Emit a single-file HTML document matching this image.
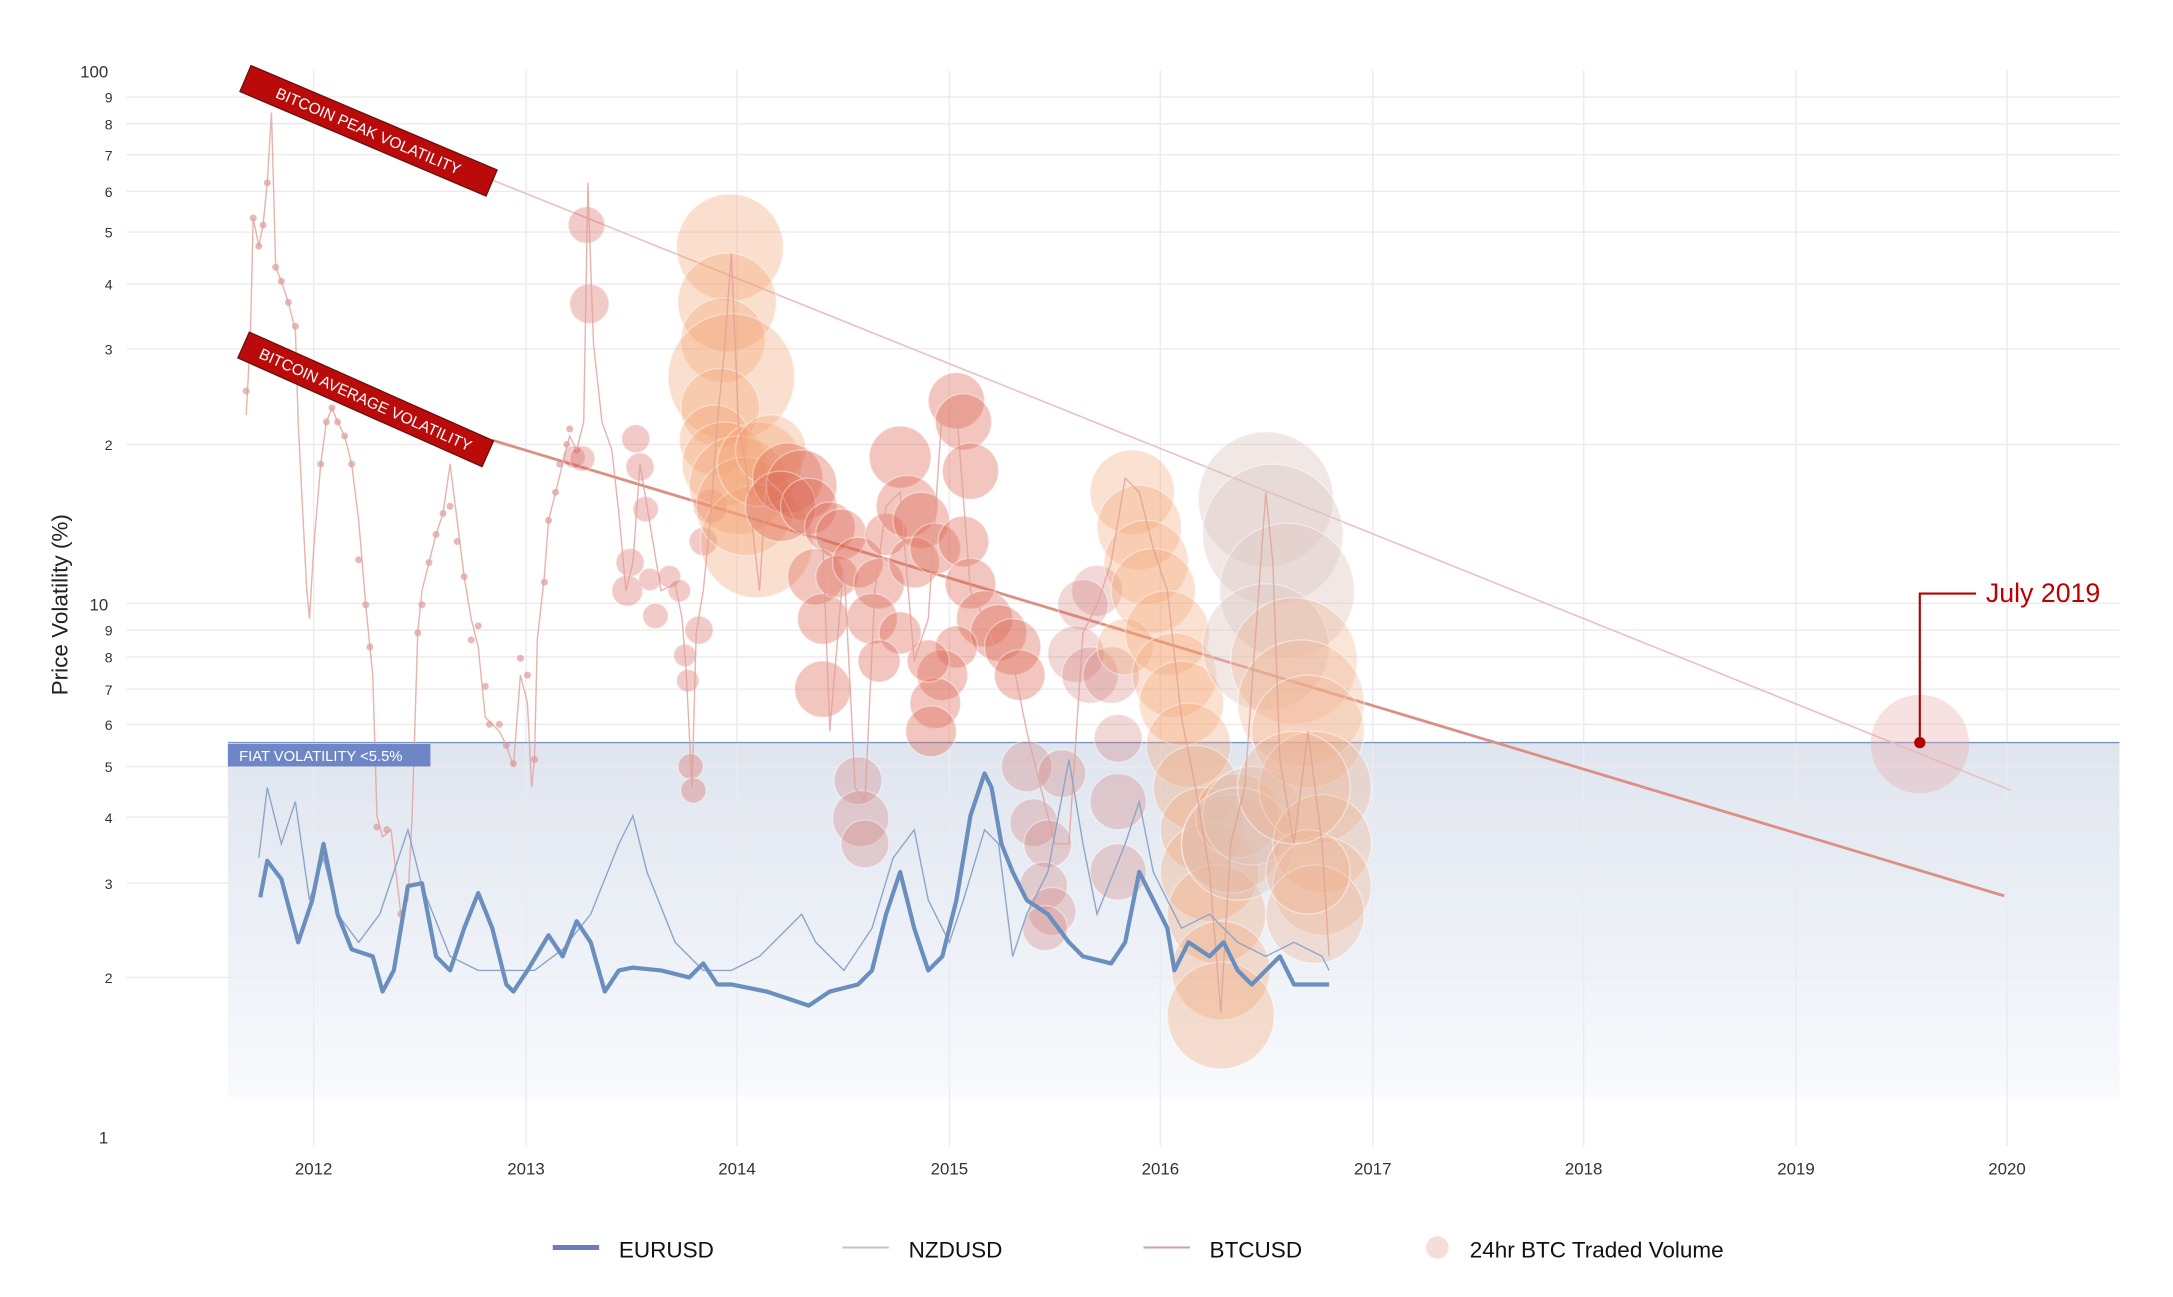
<!DOCTYPE html>
<html><head><meta charset="utf-8"><style>
html,body{margin:0;padding:0;background:#fff;}
svg{display:block;font-family:"Liberation Sans",sans-serif;}
</style></head><body>
<svg width="2173" height="1297" viewBox="0 0 1545 922.2" xmlns="http://www.w3.org/2000/svg">
<defs>
<linearGradient id="fiat" x1="0" y1="0" x2="0" y2="1">
<stop offset="0" stop-color="#dfe5ef"/><stop offset="1" stop-color="#f8fafd"/>
</linearGradient>
</defs>
<rect width="1545" height="922.2" fill="#fff"/>
<!-- fiat band -->
<rect x="162" y="528" width="1345" height="252" fill="url(#fiat)"/>
<!-- gridlines horizontal -->
<g stroke="#ebebeb" stroke-width="1">
<line x1="90" x2="1507" y1="69" y2="69"/><line x1="90" x2="1507" y1="88" y2="88"/>
<line x1="90" x2="1507" y1="110" y2="110"/><line x1="90" x2="1507" y1="136" y2="136"/>
<line x1="90" x2="1507" y1="165" y2="165"/><line x1="90" x2="1507" y1="202" y2="202"/>
<line x1="90" x2="1507" y1="248" y2="248"/><line x1="90" x2="1507" y1="316" y2="316"/>
<line x1="90" x2="1507" y1="429" y2="429"/><line x1="90" x2="1507" y1="448" y2="448"/>
<line x1="90" x2="1507" y1="467" y2="467"/><line x1="90" x2="1507" y1="490" y2="490"/>
<line x1="90" x2="1507" y1="515" y2="515"/><line x1="90" x2="1507" y1="545" y2="545"/>
<line x1="90" x2="1507" y1="581" y2="581"/><line x1="90" x2="1507" y1="628" y2="628"/>
<line x1="90" x2="1507" y1="695" y2="695"/>
</g>
<g stroke="#ebebf0" stroke-width="1">
<line x1="223" x2="223" y1="50" y2="815"/><line x1="374" x2="374" y1="50" y2="815"/>
<line x1="524" x2="524" y1="50" y2="815"/><line x1="675" x2="675" y1="50" y2="815"/>
<line x1="825" x2="825" y1="50" y2="815"/><line x1="976" x2="976" y1="50" y2="815"/>
<line x1="1126" x2="1126" y1="50" y2="815"/><line x1="1277" x2="1277" y1="50" y2="815"/>
<line x1="1427" x2="1427" y1="50" y2="815"/>
</g>
<line x1="162" x2="1507" y1="528" y2="528" stroke="#7f93c0" stroke-width="1"/>
<!-- y labels -->
<g font-size="12" fill="#333" text-anchor="end">
<text x="77" y="55">100</text>
</g>
<g font-size="10" fill="#333" text-anchor="end">
<text x="80" y="73">9</text><text x="80" y="92">8</text><text x="80" y="114">7</text>
<text x="80" y="140">6</text><text x="80" y="169">5</text><text x="80" y="206">4</text>
<text x="80" y="252">3</text><text x="80" y="320">2</text>
<text x="77" y="434" font-size="12">10</text>
<text x="80" y="452">9</text><text x="80" y="471">8</text><text x="80" y="494">7</text>
<text x="80" y="519">6</text><text x="80" y="549">5</text><text x="80" y="585">4</text>
<text x="80" y="632">3</text><text x="80" y="699">2</text><text x="77" y="813" font-size="12">1</text>
</g>
<text transform="translate(48,430) rotate(-90)" font-size="16" text-anchor="middle" fill="#222">Price Volatility (%)</text>
<g font-size="12" fill="#333" text-anchor="middle">
<text x="223" y="835">2012</text><text x="374" y="835">2013</text><text x="524" y="835">2014</text>
<text x="675" y="835">2015</text><text x="825" y="835">2016</text><text x="976" y="835">2017</text>
<text x="1126" y="835">2018</text><text x="1277" y="835">2019</text><text x="1427" y="835">2020</text>
</g>
<!-- trend lines -->
<line x1="350" y1="128" x2="1430" y2="562" stroke="#e8c4c4" stroke-width="1.2"/>
<line x1="350" y1="313" x2="1425" y2="637" stroke="#dc8f85" stroke-width="2"/>
<!-- early dots -->
<g fill="#d88a8a" fill-opacity="0.6">
<circle cx="175" cy="278" r="2.5"/><circle cx="178" cy="240" r="2.5"/><circle cx="180" cy="155" r="2.5"/><circle cx="184" cy="175" r="2.5"/><circle cx="187" cy="160" r="2.5"/><circle cx="190" cy="130" r="2.5"/><circle cx="196" cy="190" r="2.5"/><circle cx="200" cy="200" r="2.5"/><circle cx="205" cy="215" r="2.5"/><circle cx="210" cy="232" r="2.5"/><circle cx="228" cy="330" r="2.5"/><circle cx="232" cy="300" r="2.5"/><circle cx="236" cy="290" r="2.5"/><circle cx="240" cy="300" r="2.5"/><circle cx="245" cy="310" r="2.5"/><circle cx="250" cy="330" r="2.5"/><circle cx="255" cy="398" r="2.5"/><circle cx="260" cy="430" r="2.5"/><circle cx="263" cy="460" r="2.5"/><circle cx="268" cy="588" r="2.5"/><circle cx="275" cy="590" r="2.5"/><circle cx="285" cy="650" r="2.5"/><circle cx="297" cy="450" r="2.5"/><circle cx="300" cy="430" r="2.5"/><circle cx="305" cy="400" r="2.5"/><circle cx="310" cy="380" r="2.5"/><circle cx="315" cy="365" r="2.5"/><circle cx="320" cy="360" r="2.5"/><circle cx="325" cy="385" r="2.5"/><circle cx="330" cy="410" r="2.5"/><circle cx="335" cy="455" r="2.5"/><circle cx="340" cy="445" r="2.5"/><circle cx="345" cy="488" r="2.5"/><circle cx="348" cy="515" r="2.5"/><circle cx="355" cy="515" r="2.5"/><circle cx="360" cy="530" r="2.5"/><circle cx="365" cy="543" r="2.5"/><circle cx="370" cy="468" r="2.5"/><circle cx="375" cy="480" r="2.5"/><circle cx="380" cy="540" r="2.5"/><circle cx="387" cy="414" r="2.5"/><circle cx="390" cy="370" r="2.5"/><circle cx="395" cy="350" r="2.5"/><circle cx="398" cy="330" r="2.5"/><circle cx="403" cy="316" r="2.5"/><circle cx="405" cy="305" r="2.5"/><circle cx="410" cy="320" r="2.5"/>
</g>
<!-- bubbles -->
<g fill="#d9625a" fill-opacity="0.33" stroke="#fff" stroke-opacity="0.35" stroke-width="1">
<circle cx="417" cy="160" r="13"/><circle cx="419" cy="216" r="14"/><circle cx="452" cy="312" r="10"/><circle cx="455" cy="332" r="10"/><circle cx="459" cy="362" r="9"/><circle cx="448" cy="400" r="10"/><circle cx="446" cy="420" r="11"/><circle cx="462" cy="412" r="8"/><circle cx="466" cy="438" r="9"/><circle cx="476" cy="410" r="8"/><circle cx="483" cy="420" r="8"/><circle cx="487" cy="466" r="8"/><circle cx="489" cy="484" r="8"/><circle cx="491" cy="545" r="9"/><circle cx="493" cy="562" r="9"/><circle cx="497" cy="448" r="10"/><circle cx="500" cy="385" r="10"/><circle cx="505" cy="360" r="12"/><circle cx="408" cy="325" r="8"/><circle cx="414" cy="326" r="9"/>
</g>
<g fill="#f3a374" fill-opacity="0.35" stroke="#fff" stroke-opacity="0.4" stroke-width="1">
<circle cx="519" cy="176" r="38"/><circle cx="517" cy="215" r="35"/><circle cx="514" cy="242" r="30"/><circle cx="520" cy="268" r="45"/><circle cx="512" cy="290" r="28"/><circle cx="508" cy="313" r="25"/><circle cx="515" cy="330" r="30"/><circle cx="525" cy="345" r="35"/><circle cx="538" cy="385" r="40"/><circle cx="530" cy="360" r="35"/><circle cx="540" cy="330" r="30"/><circle cx="548" cy="320" r="25"/>
</g>
<g fill="#dd6a55" fill-opacity="0.38" stroke="#fff" stroke-opacity="0.4" stroke-width="1">
<circle cx="560" cy="340" r="25"/><circle cx="570" cy="345" r="25"/><circle cx="555" cy="360" r="25"/><circle cx="575" cy="360" r="20"/><circle cx="590" cy="375" r="18"/><circle cx="598" cy="380" r="18"/><circle cx="580" cy="410" r="20"/><circle cx="585" cy="440" r="18"/><circle cx="595" cy="410" r="15"/><circle cx="610" cy="400" r="18"/><circle cx="625" cy="415" r="18"/><circle cx="620" cy="440" r="18"/><circle cx="630" cy="380" r="15"/><circle cx="640" cy="325" r="22"/><circle cx="645" cy="360" r="22"/><circle cx="655" cy="370" r="20"/><circle cx="650" cy="400" r="18"/><circle cx="665" cy="390" r="18"/><circle cx="680" cy="285" r="20"/><circle cx="685" cy="300" r="20"/><circle cx="690" cy="335" r="20"/><circle cx="685" cy="385" r="18"/><circle cx="690" cy="415" r="18"/><circle cx="700" cy="440" r="20"/><circle cx="710" cy="450" r="20"/><circle cx="720" cy="460" r="20"/><circle cx="725" cy="480" r="18"/><circle cx="680" cy="460" r="15"/><circle cx="670" cy="480" r="18"/><circle cx="665" cy="500" r="18"/><circle cx="662" cy="520" r="18"/><circle cx="660" cy="470" r="15"/><circle cx="640" cy="450" r="15"/><circle cx="625" cy="470" r="15"/><circle cx="585" cy="490" r="20"/>
</g>
<g fill="#d27a78" fill-opacity="0.3" stroke="#fff" stroke-opacity="0.4" stroke-width="1">
<circle cx="610" cy="555" r="17"/><circle cx="612" cy="582" r="20"/><circle cx="615" cy="600" r="17"/><circle cx="730" cy="545" r="18"/><circle cx="755" cy="550" r="17"/><circle cx="735" cy="585" r="17"/><circle cx="745" cy="600" r="17"/><circle cx="742" cy="630" r="17"/><circle cx="748" cy="648" r="17"/><circle cx="743" cy="660" r="16"/><circle cx="795" cy="525" r="17"/><circle cx="795" cy="570" r="20"/><circle cx="795" cy="620" r="20"/><circle cx="780" cy="420" r="18"/><circle cx="770" cy="430" r="18"/><circle cx="765" cy="465" r="20"/><circle cx="775" cy="480" r="20"/><circle cx="790" cy="480" r="20"/>
</g>
<g fill="#f3a374" fill-opacity="0.33" stroke="#fff" stroke-opacity="0.4" stroke-width="1">
<circle cx="805" cy="350" r="30"/><circle cx="810" cy="375" r="30"/><circle cx="815" cy="400" r="30"/><circle cx="820" cy="420" r="30"/><circle cx="800" cy="460" r="20"/><circle cx="830" cy="450" r="30"/><circle cx="835" cy="480" r="30"/><circle cx="840" cy="500" r="30"/><circle cx="845" cy="530" r="30"/><circle cx="850" cy="560" r="30"/><circle cx="855" cy="590" r="30"/><circle cx="860" cy="620" r="35"/><circle cx="865" cy="650" r="35"/><circle cx="868" cy="690" r="35"/><circle cx="868" cy="722" r="38"/><circle cx="875" cy="600" r="35"/><circle cx="880" cy="580" r="30"/>
</g>
<g fill="#dcc6c0" fill-opacity="0.4" stroke="#fff" stroke-opacity="0.45" stroke-width="1">
<circle cx="900" cy="355" r="48"/><circle cx="905" cy="380" r="50"/><circle cx="915" cy="420" r="48"/><circle cx="900" cy="460" r="45"/><circle cx="890" cy="580" r="35"/><circle cx="880" cy="600" r="40"/>
</g>
<g fill="#f0b08c" fill-opacity="0.33" stroke="#fff" stroke-opacity="0.45" stroke-width="1">
<circle cx="920" cy="470" r="45"/><circle cx="925" cy="500" r="45"/><circle cx="930" cy="520" r="40"/><circle cx="935" cy="560" r="40"/><circle cx="940" cy="600" r="35"/><circle cx="940" cy="630" r="35"/><circle cx="935" cy="650" r="35"/><circle cx="930" cy="620" r="30"/><circle cx="920" cy="560" r="40"/>
</g>
<!-- BTC line -->
<polyline fill="none" stroke="#e0a098" stroke-width="1" stroke-opacity="0.8" points="175,295 178,240 180,155 184,175 187,160 190,130 193,80 196,190 200,200 205,215 210,235 212,300 215,360 218,418 220,440 223,390 228,330 232,300 236,290 240,300 245,310 250,330 255,370 260,430 265,480 268,580 272,595 278,590 285,650 290,640 293,580 297,450 300,420 305,400 310,380 315,365 320,330 325,370 330,410 335,440 340,460 345,510 350,515 355,520 360,530 365,545 370,480 375,500 378,560 380,540 382,455 387,410 390,370 395,350 400,330 405,310 410,320 415,300 418,130 420,190 422,245 428,300 435,320 440,365 445,420 450,400 455,330 460,360 470,420 480,415 485,440 488,480 492,560 495,450 500,420 505,370 510,300 515,250 520,180 525,300 530,330 540,420 545,340 555,350 565,370 575,380 585,385 590,520 600,400 608,560 615,570 622,420 630,360 640,350 650,470 660,440 670,290 680,290 690,420 700,440 710,470 720,470 730,520 740,560 750,600 760,600 770,450 780,430 790,400 800,340 810,350 820,390 830,420 840,510 850,560 860,620 868,720 875,600 885,560 895,420 900,350 905,400 910,540 920,600 930,520 940,600 945,680"/>
<!-- NZDUSD -->
<polyline fill="none" stroke="#8ea6c8" stroke-width="1" points="184,610 190,560 200,600 210,570 220,640 230,610 240,650 255,670 270,650 280,620 290,590 300,630 320,680 340,690 360,690 380,690 400,675 420,650 440,600 450,580 460,620 480,670 500,690 520,690 540,680 560,660 570,650 580,670 600,690 620,660 635,610 650,590 660,640 675,670 685,640 700,590 710,600 720,680 730,650 745,620 760,540 770,600 780,650 800,600 810,570 820,620 840,660 860,650 880,670 900,680 920,670 940,680 945,690"/>
<!-- EURUSD -->
<polyline fill="none" stroke="#6a8fbf" stroke-width="3" stroke-linejoin="round" points="185,638 190,612 200,625 212,670 222,640 230,600 240,650 250,675 265,680 272,705 280,690 290,630 300,628 310,680 320,690 330,660 340,635 350,660 360,700 365,705 375,690 390,665 400,680 410,655 420,670 430,705 440,690 450,688 470,690 490,695 500,685 510,700 520,700 545,705 560,710 575,715 590,705 610,700 620,690 630,650 640,620 650,660 660,690 670,680 680,640 690,580 700,550 705,560 712,600 720,620 730,640 745,650 760,670 770,680 790,685 800,670 810,620 820,640 830,660 835,690 845,670 860,680 870,670 880,690 890,700 900,690 910,680 920,700 945,700"/>
<!-- labels -->
<g transform="translate(262,93) rotate(23)">
<rect x="-95" y="-10" width="190" height="20" fill="#bb0a0a" stroke="#6e1010" stroke-width="1"/>
<text x="0" y="4" font-size="11" fill="#fff" text-anchor="middle">BITCOIN PEAK VOLATILITY</text>
</g>
<g transform="translate(260,284) rotate(24)">
<rect x="-95" y="-10" width="190" height="20" fill="#bb0a0a" stroke="#6e1010" stroke-width="1"/>
<text x="0" y="4" font-size="11" fill="#fff" text-anchor="middle">BITCOIN AVERAGE VOLATILITY</text>
</g>
<rect x="162" y="529" width="144" height="16" fill="#6f86c6"/>
<text x="170" y="541" font-size="10.5" fill="#fff">FIAT VOLATILITY &lt;5.5%</text>
<!-- July 2019 -->
<circle cx="1365" cy="529" r="35" fill="#e9a8a8" fill-opacity="0.35"/>
<polyline points="1365,528 1365,422 1405,422" fill="none" stroke="#b00000" stroke-width="1.5"/>
<circle cx="1365" cy="528" r="4" fill="#b00000"/>
<text x="1412" y="428" font-size="19" fill="#c00000">July 2019</text>
<!-- legend -->
<line x1="393" x2="426" y1="887" y2="887" stroke="#6a7fb5" stroke-width="3.5"/>
<text x="440" y="894" font-size="16" fill="#111">EURUSD</text>
<line x1="599" x2="632" y1="887" y2="887" stroke="#b7c5dc" stroke-width="1.5"/>
<text x="646" y="894" font-size="16" fill="#111">NZDUSD</text>
<line x1="813" x2="846" y1="887" y2="887" stroke="#d4a098" stroke-width="1.5"/>
<text x="860" y="894" font-size="16" fill="#111">BTCUSD</text>
<circle cx="1022" cy="887" r="8" fill="#f6dcda"/>
<text x="1045" y="894" font-size="16" fill="#111">24hr BTC Traded Volume</text>
</svg>
</body></html>
